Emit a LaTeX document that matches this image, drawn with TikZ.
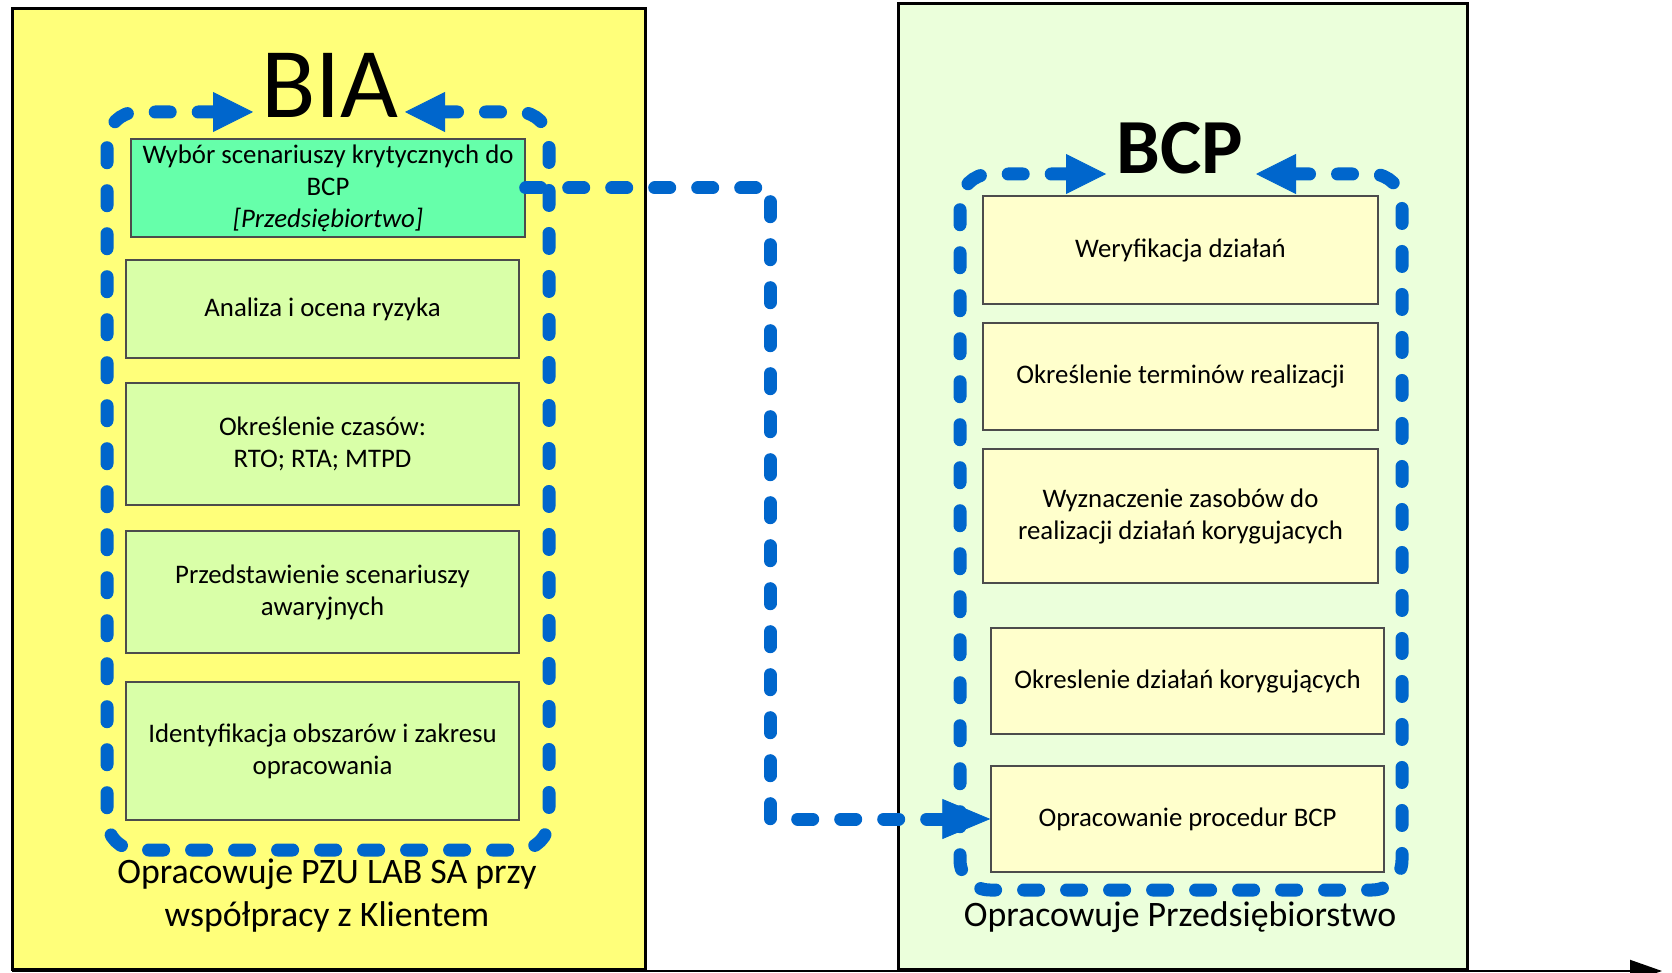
\documentclass[tikz,border=0pt]{standalone}
\usepackage{fontspec}
\setmainfont{Carlito}
\usetikzlibrary{arrows.meta}

\definecolor{panelyellow}{HTML}{FFFF7A}
\definecolor{panelgreen}{HTML}{EBFFDB}
\definecolor{stepgreen}{HTML}{D9FFA8}
\definecolor{keygreen}{HTML}{66FFAA}
\definecolor{stepyellow}{HTML}{FFFFCC}
\definecolor{loopblue}{HTML}{0066CC}

\tikzset{
  looptip/.tip={Triangle[length=20pt,width=20pt,line width=0.4pt]},
  linktip/.tip={Triangle[length=24pt,width=20pt,line width=0.4pt]},
}

\begin{document}
\begin{tikzpicture}[x=0.5pt,y=-0.5pt,
  panel/.style={draw=black, line width=1.5pt, inner sep=0pt, anchor=north west},
  stepbox/.style={draw=black!70, line width=0.7pt, inner sep=2pt, align=center,
    font=\fontsize{13.4}{16}\selectfont},
  loopline/.style={draw=loopblue, line width=6.5pt, line cap=round,
    dash pattern=on 7.5pt off 14pt, rounded corners=15pt},
  linkline/.style={draw=loopblue, line width=6.5pt, line cap=round, line join=round,
    dash pattern=on 7.5pt off 14pt},
  caption/.style={align=center, font=\fontsize{17.9}{21.5}\selectfont},
]
\useasboundingbox (0,0) rectangle (1672,973);
\fill[white] (0,0) rectangle (1672,973);

% the two working areas
\node[panel, fill=panelyellow, minimum width=316.5pt, minimum height=480.5pt] (biapanel) at (11,7) {};
\node[panel, fill=panelgreen, minimum width=284.5pt, minimum height=483pt] (bcppanel) at (897,2) {};

% bottom axis
\coordinate (axisL) at (12,971);
\coordinate (axisR) at (1662,971);
\draw[line width=1pt, -{Triangle[length=16pt,width=11pt]}] (axisL) -- (axisR);

% BIA steps
\node[stepbox, fill=keygreen, minimum width=197pt, minimum height=49pt] (g1) at (328,188)
  {Wybór scenariuszy krytycznych do\\BCP\\\textit{[Przedsiębiortwo]}};
\node[stepbox, fill=stepgreen, minimum width=196.5pt, minimum height=49pt] (b1) at (322.5,309)
  {Analiza i ocena ryzyka};
\node[stepbox, fill=stepgreen, minimum width=196.5pt, minimum height=61pt] (b2) at (322.5,444)
  {Określenie czasów:\\RTO; RTA; MTPD};
\node[stepbox, fill=stepgreen, minimum width=196.5pt, minimum height=61pt] (b3) at (322.5,592)
  {Przedstawienie scenariuszy\\awaryjnych};
\node[stepbox, fill=stepgreen, minimum width=196.5pt, minimum height=69pt] (b4) at (322.5,751)
  {Identyfikacja obszarów i zakresu\\opracowania};

% BCP steps
\node[stepbox, fill=stepyellow, minimum width=197.5pt, minimum height=54pt] (r1) at (1180.5,250)
  {Weryfikacja działań};
\node[stepbox, fill=stepyellow, minimum width=197.5pt, minimum height=53.5pt] (r2) at (1180.5,376.5)
  {Określenie terminów realizacji};
\node[stepbox, fill=stepyellow, minimum width=197.5pt, minimum height=67pt] (r3) at (1180.5,516)
  {Wyznaczenie zasobów do\\realizacji działań korygujacych};
\node[stepbox, fill=stepyellow, minimum width=196.5pt, minimum height=53pt] (r4) at (1187.5,681)
  {Okreslenie działań korygujących};
\node[stepbox, fill=stepyellow, minimum width=196.5pt, minimum height=53pt] (r5) at (1187.5,819)
  {Opracowanie procedur BCP};

% titles
\node[inner sep=0pt, font=\fontsize{50}{50}\selectfont] (bia) at (330,85) {BIA};
\node[inner sep=0pt, font=\bfseries\fontsize{39}{39}\selectfont] (bcp) at (1180,148) {BCP};

% captions
\node[caption] (biacap) at (327,896) {Opracowuje PZU LAB SA przy\\współpracy z Klientem};
\node[caption] (bcpcap) at (1180,917) {Opracowuje Przedsiębiorstwo};

% dashed loops closing on the titles
\coordinate (biaL) at (253,112);
\coordinate (biaR) at (405,112);
\draw[loopline, looptip-looptip] (biaL) -- (107,112) -- (107,850) -- (549,850) -- (549,112) -- (biaR);

\coordinate (bcpL) at (1106,174);
\coordinate (bcpR) at (1256,174);
\draw[loopline, looptip-looptip] (bcpL) -- (960,174) -- (960,890) -- (1402,890) -- (1402,174) -- (bcpR);

% link from the scenario choice to the BCP procedures
\coordinate (bend) at (770,188);
\draw[linkline, -linktip] (g1.east) -- (bend) |- (r5.west);
\end{tikzpicture}
\end{document}
